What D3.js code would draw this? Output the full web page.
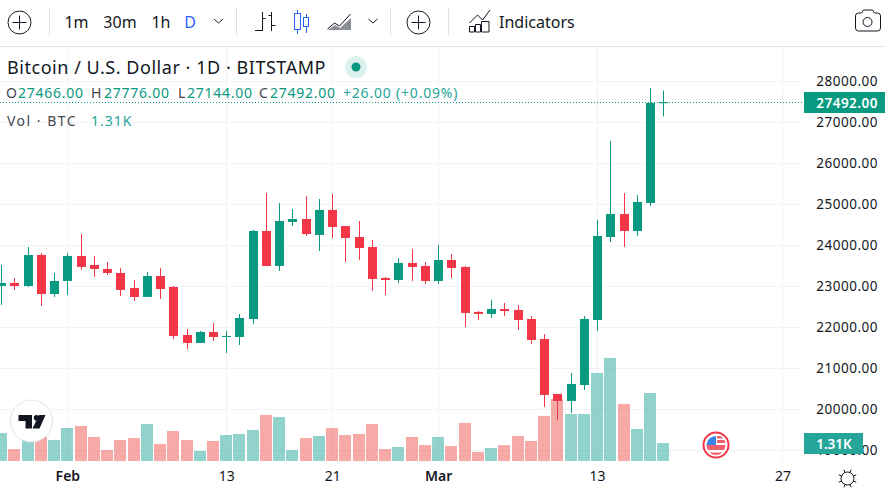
<!DOCTYPE html>
<html>
<head>
<meta charset="utf-8">
<script src="https://d3js.org/d3.v7.min.js"></script>
<style>
  html, body { margin: 0; padding: 0; background: #fff; overflow: hidden; }
  text { font-family: "Noto Sans", sans-serif; }
</style>
</head>
<body>
<svg id="chart"></svg>
<script>
var width = 885,
    height = 492;

// day numbers count from 1 Feb
var firstDay = -5;
var opens = [23008,23081,23008,23764,22813,23130,23740,23520,23423,23325,22959,22740,23252,22984,21813,21618,21886,21764,21764,22203,24350,23496,24569,
  24642,24252,24862,24471,24203,23959,23203,23154,23569,23496,23130,23642,23472,22374,22325,22447,22423,22203,21715,20374,20203,20593,22179,24203,24764,24350,25033,27466];
var highs = [23520,23203,23959,23813,23325,23813,24276,23740,23593,23447,23154,23350,23447,23008,21959,21911,22106,21911,22325,24374,25276,25033,24886,
  25203,25130,25252,24471,24593,24130,23228,23691,23911,23593,24008,23789,23496,22398,22667,22593,22545,22276,21837,20374,20886,22276,24618,26545,25276,25228,27837,27776];
var lows = [22545,22911,22984,22520,22740,22789,23398,23228,23276,22764,22642,22740,22691,21715,21472,21618,21667,21374,21569,22081,23496,23374,24472,
  24228,23862,24179,23593,23642,22886,22789,23081,23130,23057,23057,23203,22008,22179,22228,22276,21935,21593,20057,19740,19911,20472,21911,24081,23959,24228,24960,27144];
var closes = [23081,23008,23764,22813,23130,23740,23472,23423,23325,22911,22740,23252,22935,21789,21618,21886,21764,21789,22228,24350,23496,24593,24642,
  24276,24862,24447,24179,23935,23179,23154,23569,23472,23130,23642,23447,22350,22325,22447,22398,22179,21691,20350,20203,20618,22203,24228,24764,24350,25057,27472,27492];
var volumes = [2.04,0.87,1.53,1.75,1.53,2.40,2.55,1.75,0.80,1.53,1.67,2.69,1.24,2.18,1.53,0.73,1.46,1.89,1.97,2.26,3.35,3.20,0.80,
  1.67,1.82,2.40,1.89,1.97,2.69,0.87,1.02,1.75,1.16,1.75,1.09,2.77,0.66,0.95,1.16,1.82,1.46,3.28,4.51,3.42,3.42,6.41,7.50,4.15,2.33,4.95,1.31];

var priceTicks = [19000,20000,21000,22000,23000,24000,25000,26000,27000,28000];
var timeTicks = [0,12,20,28,40,54];
var timeLabels = ["Feb","13","21","Mar","13","27"];
var boldLabels = ["Feb","Mar"];
var intervals = ["1m","30m","1h","D"];
var intervalX = [76.5,120,161,190];
var ohlcNames = ["O","H","L","C"];
var ohlcValues = ["27466.00","27776.00","27144.00","27492.00"];
var ohlcX = [6,91,178,259];
var ohlcValueX = [18,104,187,270];

var up_color = '#089981',
    down_color = '#f23645',
    vol_up = 'rgba(38,166,154,0.5)',
    vol_down = 'rgba(239,83,80,0.5)',
    grid_color = '#f0f3fa',
    text_color = '#131722',
    line_color = '#e0e3eb';

var svg = d3.select("#chart")
    .attr("width", width)
    .attr("height", height)
    .style("display", "block");

var x = d3.scaleLinear().domain([0, 54]).range([67.35, 782.4]);
var y = d3.scaleLinear().domain([19000, 28000]).range([450.3, 81.3]);
var vol_y = d3.scaleLinear().domain([0, 1.31]).range([461, 443]);

var candles = opens.map(function(o, i) {
  return {day: firstDay + i, o: o, h: highs[i], l: lows[i], c: closes[i], v: volumes[i]};
});

// grid
svg.append("g").selectAll("line").data(priceTicks).enter().append("line")
    .attr("x1", 0).attr("x2", 803.5)
    .attr("y1", function(d) { return Math.round(y(d)) + 0.5; })
    .attr("y2", function(d) { return Math.round(y(d)) + 0.5; })
    .attr("stroke", grid_color);
svg.append("g").selectAll("line").data(timeTicks).enter().append("line")
    .attr("y1", 47).attr("y2", 461)
    .attr("x1", function(d) { return Math.round(x(d)) + 0.5; })
    .attr("x2", function(d) { return Math.round(x(d)) + 0.5; })
    .attr("stroke", grid_color);

// volume
svg.append("g").selectAll("rect").data(candles).enter().append("rect")
    .attr("x", function(d) { return Math.round(x(d.day)) - 6; })
    .attr("width", 12)
    .attr("y", function(d) { return vol_y(d.v); })
    .attr("height", function(d) { return vol_y(0) - vol_y(d.v); })
    .attr("fill", function(d) { return d.c >= d.o ? vol_up : vol_down; });

// candles
var candle = svg.append("g").selectAll("g").data(candles).enter().append("g")
    .attr("fill", function(d) { return d.c >= d.o ? up_color : down_color; });
candle.append("rect")
    .attr("x", function(d) { return Math.round(x(d.day)); })
    .attr("width", 1)
    .attr("y", function(d) { return y(d.h); })
    .attr("height", function(d) { return y(d.l) - y(d.h); });
candle.append("rect")
    .attr("x", function(d) { return Math.round(x(d.day)) - 4; })
    .attr("width", 9)
    .attr("y", function(d) { return y(Math.max(d.o, d.c)); })
    .attr("height", function(d) { return Math.max(1, Math.abs(y(d.o) - y(d.c))); });

// last price line
var last = closes[closes.length - 1];
svg.append("line")
    .attr("x1", 0).attr("x2", 804)
    .attr("y1", Math.round(y(last)) + 0.5).attr("y2", Math.round(y(last)) + 0.5)
    .attr("stroke", up_color)
    .attr("stroke-dasharray", "1 2");

// price axis
var price_axis = svg.append("g")
    .attr("transform", "translate(878,0)")
    .call(d3.axisRight(y).tickValues(priceTicks).tickSize(0).tickPadding(0).tickFormat(d3.format(".2f")));
price_axis.select(".domain").remove();
price_axis.selectAll("text")
    .attr("text-anchor", "end")
    .attr("font-size", 13.5)
    .style("font-family", '"Noto Sans", sans-serif')
    .style("letter-spacing", "0.5px")
    .attr("fill", text_color);

svg.append("rect").attr("x", 804).attr("y", 92).attr("width", 81).attr("height", 21).attr("fill", up_color);
svg.append("text").attr("x", 878).attr("y", 107.5).attr("text-anchor", "end")
    .attr("font-size", 13.5).attr("font-weight", 600).style("letter-spacing", "0.5px").attr("fill", "#fff").text("27492.00");
svg.append("rect").attr("x", 804).attr("y", 433).attr("width", 59).attr("height", 21).attr("fill", "#26a69a");
svg.append("text").attr("x", 834).attr("y", 448.5).attr("text-anchor", "middle")
    .attr("font-size", 13.5).attr("font-weight", 600).attr("fill", "#fff").text("1.31K");

// time axis
var time_axis = svg.append("g")
    .attr("transform", "translate(0,461)")
    .call(d3.axisBottom(x).tickValues(timeTicks).tickSize(0).tickPadding(10)
      .tickFormat(function(d, i) { return timeLabels[i]; }));
time_axis.select(".domain").remove();
time_axis.selectAll("text")
    .attr("font-size", 14)
    .style("font-family", '"Noto Sans", sans-serif')
    .attr("font-weight", function(d, i) { return boldLabels.indexOf(timeLabels[i]) >= 0 ? 600 : 400; })
    .attr("fill", text_color);

// legend
svg.append("text").attr("x", 7).attr("y", 74).attr("font-size", 18).attr("fill", text_color)
    .style("letter-spacing", "0.54px").text("Bitcoin / U.S. Dollar · 1D · BITSTAMP");
svg.append("circle").attr("cx", 356).attr("cy", 67).attr("r", 11).attr("fill", "#dcf1ed");
svg.append("circle").attr("cx", 356).attr("cy", 67).attr("r", 4.5).attr("fill", up_color);

ohlcNames.forEach(function(n, i) {
  svg.append("text").attr("x", ohlcX[i]).attr("y", 98).attr("font-size", 14).attr("fill", "#434651")
      .text(n);
  svg.append("text").attr("x", ohlcValueX[i]).attr("y", 98).attr("font-size", 14).attr("fill", up_color)
      .style("letter-spacing", "0.75px").text(ohlcValues[i]);
});
svg.append("text").attr("x", 343).attr("y", 98).attr("font-size", 14).attr("fill", "#26a69a")
    .style("letter-spacing", "0.8px").text("+26.00 (+0.09%)");
svg.append("text").attr("x", 7).attr("y", 126).attr("font-size", 14).attr("fill", "#434651")
    .style("letter-spacing", "1.5px").text("Vol · BTC");
svg.append("text").attr("x", 91).attr("y", 126).attr("font-size", 14).attr("fill", "#26a69a")
    .style("letter-spacing", "1px").text("1.31K");

// toolbar
svg.append("line").attr("x1", 0).attr("x2", width).attr("y1", 46.5).attr("y2", 46.5).attr("stroke", line_color);
[49.5, 236.5, 390.5, 448.5].forEach(function(sx) {
  svg.append("line").attr("x1", sx).attr("x2", sx).attr("y1", 8).attr("y2", 36).attr("stroke", line_color);
});
intervals.forEach(function(t, i) {
  svg.append("text").attr("x", intervalX[i]).attr("y", 28).attr("text-anchor", "middle")
      .attr("font-size", 16).attr("fill", t == "D" ? "#2962ff" : text_color).text(t);
});
svg.append("text").attr("x", 499).attr("y", 28).attr("font-size", 16).attr("fill", text_color).text("Indicators");

var icon = svg.append("g").attr("fill", "none").attr("stroke", text_color).attr("stroke-width", 1);
function plus(cx, cy) {
  icon.append("circle").attr("cx", cx).attr("cy", cy).attr("r", 11.5);
  icon.append("path").attr("d", "M" + (cx - 7) + " " + cy + "h14M" + cx + " " + (cy - 7) + "v14");
}
function chevron(cx, cy) {
  icon.append("path").attr("d", "M" + (cx - 4.5) + " " + (cy - 2) + "l4.5 4l4.5 -4");
}
plus(19.5, 22.5);
plus(418.5, 22.5);
chevron(218.5, 21);
chevron(373, 21);
// bars icon
icon.append("path").attr("d", "M262.5 12v19M255 30.5h7.5M262.5 18.5h3M271.5 12v19M271.5 15.5h-3M271.5 25.5h4");
// candles icon
icon.append("g").attr("stroke", "#2962ff").attr("fill", "none").call(function(g) {
  g.append("path").attr("d", "M297.5 10v24M306.5 14v19");
  g.append("rect").attr("x", 294.5).attr("y", 13.5).attr("width", 6).attr("height", 16).attr("fill", "#fff");
  g.append("rect").attr("x", 303.5).attr("y", 17.5).attr("width", 5).attr("height", 9).attr("fill", "#fff");
});
// area icon
icon.append("path").attr("d", "M327.5 29l7 -6l5 3l11 -12");
icon.append("path").attr("d", "M328 30l7 -5l5 3l11 -10v12h-23z").attr("fill", "#8b8e97").attr("stroke", "none");
// indicators icon
icon.append("path").attr("d", "M469.5 23l8 -8l5 5l7.5 -10");
icon.append("path").attr("d", "M469.5 26.5h5v5.5h-5zM475.5 24.5h5v7.5h-5zM481.5 21.5h7.5v10.5h-7.5z");
// camera icon
icon.append("path").attr("d", "M855.5 16a3 3 0 0 1 3 -3h3l2 -3h9l2 3h3a3 3 0 0 1 3 3v12a3 3 0 0 1 -3 3h-19a3 3 0 0 1 -3 -3z");
icon.append("circle").attr("cx", 867.5).attr("cy", 22).attr("r", 4.5);
// sun icon
icon.append("circle").attr("cx", 847.5).attr("cy", 478.5).attr("r", 6.5);
d3.range(8).forEach(function(i) {
  var a = i * Math.PI / 4 + Math.PI / 8;
  icon.append("line")
      .attr("x1", 847.5 + 6.5 * Math.cos(a)).attr("y1", 478.5 + 6.5 * Math.sin(a))
      .attr("x2", 847.5 + 9.5 * Math.cos(a)).attr("y2", 478.5 + 9.5 * Math.sin(a));
});

// logo
svg.append("circle").attr("cx", 31.5).attr("cy", 421).attr("r", 21).attr("fill", "#fff")
    .attr("stroke", "#e0e3eb").attr("stroke-width", 1);
svg.append("path").attr("fill", text_color)
    .attr("d", "M18.5 415h13.5v13.5h-6.5v-7.5h-7z");
svg.append("circle").attr("cx", 36.5).attr("cy", 417.7).attr("r", 2.8).attr("fill", text_color);
svg.append("path").attr("fill", text_color).attr("d", "M39 415h6.5l-6 13.5h-7z");

// flag
svg.append("circle").attr("cx", 716).attr("cy", 445).attr("r", 12.5).attr("fill", "#fff").attr("stroke", "#f23645").attr("stroke-width", 2);
svg.append("path").attr("fill", "#f0606b").attr("d", "M706.5 445h19a9.5 9.5 0 0 1 -1.5 5h-16a9.5 9.5 0 0 1 -1.5 -5zM709.5 452.5h13a9.5 9.5 0 0 1 -13 0zM717 440h7.5a9.5 9.5 0 0 1 1 3h-8.5zM717 436h3.5a9.5 9.5 0 0 1 2.5 2.5h-6z");
svg.append("path").attr("fill", "#3c85e6").attr("d", "M716 436v9h-9.5a9.5 9.5 0 0 1 9.5 -9z");
</script>
</body>
</html>
